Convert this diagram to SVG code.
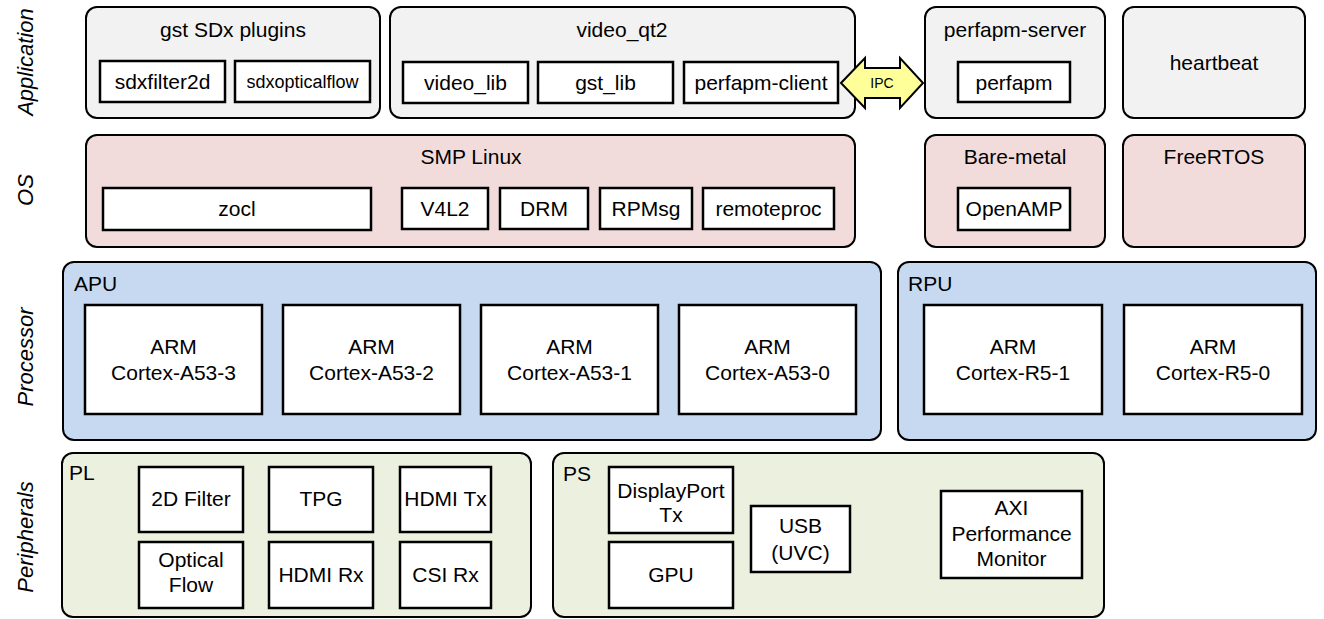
<svg xmlns="http://www.w3.org/2000/svg" width="1324" height="619" viewBox="0 0 1324 619">
<style>
text{font-family:"Liberation Sans",Arial,sans-serif;font-size:21px;fill:#000}
.c{text-anchor:middle}
.sm{font-size:18px}
.lbl{font-style:italic;text-anchor:middle;dominant-baseline:central;font-size:22px}
.grp{stroke:#000;stroke-width:2}
.app{fill:#f2f2f2}
.os{fill:#f2dcdb}
.proc{fill:#c6d9f1}
.per{fill:#ebf1de}
.box{fill:#fff;stroke:#000;stroke-width:2.5}
</style>
<g id="layer-labels">
<text class="lbl" transform="translate(25,62) rotate(-90)">Application</text>
<text class="lbl" transform="translate(25,190) rotate(-90)">OS</text>
<text class="lbl" transform="translate(25,357) rotate(-90)">Processor</text>
<text class="lbl" transform="translate(25,537) rotate(-90)">Peripherals</text>
</g>
<g id="gst-sdx-plugins">
<rect class="grp app" x="86" y="7" width="294" height="111" rx="11"/>
<text class="c" x="233" y="37">gst SDx plugins</text>
<g id="sdxfilter2d"><rect class="box" x="100" y="61" width="125" height="41"/><text class="c" x="162.5" y="89">sdxfilter2d</text></g>
<g id="sdxopticalflow"><rect class="box" x="235" y="61" width="135" height="41"/><text class="c sm" x="302.5" y="88">sdxopticalflow</text></g>
</g>
<g id="video_qt2">
<rect class="grp app" x="390" y="7" width="465" height="111" rx="11"/>
<text class="c" x="622" y="37">video_qt2</text>
<g id="video_lib"><rect class="box" x="403" y="62" width="125" height="41"/><text class="c" x="465.5" y="90">video_lib</text></g>
<g id="gst_lib"><rect class="box" x="538" y="62" width="135" height="41"/><text class="c" x="605.5" y="90">gst_lib</text></g>
<g id="perfapm-client"><rect class="box" x="684" y="62" width="154" height="41"/><text class="c" x="761" y="90">perfapm-client</text></g>
</g>
<g id="perfapm-server">
<rect class="grp app" x="925" y="7" width="180" height="111" rx="11"/>
<text class="c" x="1015" y="37">perfapm-server</text>
<g id="perfapm"><rect class="box" x="958" y="62" width="112" height="40"/><text class="c" x="1014" y="90">perfapm</text></g>
</g>
<g id="heartbeat">
<rect class="grp app" x="1123" y="7" width="182" height="111" rx="11"/>
<text class="c" x="1214" y="70">heartbeat</text>
</g>
<g id="smp-linux">
<rect class="grp os" x="86" y="135" width="769" height="112" rx="11"/>
<text class="c" x="471" y="164">SMP Linux</text>
<g id="zocl"><rect class="box" x="103" y="188" width="268" height="42"/><text class="c" x="237" y="216">zocl</text></g>
<g id="v4l2"><rect class="box" x="402" y="188" width="86" height="41"/><text class="c" x="445" y="216">V4L2</text></g>
<g id="drm"><rect class="box" x="500" y="188" width="88" height="41"/><text class="c" x="544" y="216">DRM</text></g>
<g id="rpmsg"><rect class="box" x="600" y="188" width="92" height="41"/><text class="c" x="646" y="216">RPMsg</text></g>
<g id="remoteproc"><rect class="box" x="703" y="188" width="131" height="41"/><text class="c" x="768.5" y="216">remoteproc</text></g>
</g>
<g id="bare-metal">
<rect class="grp os" x="925" y="135" width="180" height="112" rx="11"/>
<text class="c" x="1015" y="164">Bare-metal</text>
<g id="openamp"><rect class="box" x="958" y="188" width="112" height="42"/><text class="c" x="1014" y="216">OpenAMP</text></g>
</g>
<g id="freertos">
<rect class="grp os" x="1123" y="135" width="182" height="112" rx="11"/>
<text class="c" x="1214" y="164">FreeRTOS</text>
</g>
<g id="apu">
<rect class="grp proc" x="63" y="262" width="818" height="178" rx="11"/>
<text x="74" y="291">APU</text>
<g id="a53-3"><rect class="box" x="85" y="305" width="177" height="109"/><text class="c" x="173.5" y="354">ARM</text><text class="c" x="173.5" y="380">Cortex-A53-3</text></g>
<g id="a53-2"><rect class="box" x="283" y="305" width="177" height="109"/><text class="c" x="371.5" y="354">ARM</text><text class="c" x="371.5" y="380">Cortex-A53-2</text></g>
<g id="a53-1"><rect class="box" x="481" y="305" width="177" height="109"/><text class="c" x="569.5" y="354">ARM</text><text class="c" x="569.5" y="380">Cortex-A53-1</text></g>
<g id="a53-0"><rect class="box" x="679" y="305" width="177" height="109"/><text class="c" x="767.5" y="354">ARM</text><text class="c" x="767.5" y="380">Cortex-A53-0</text></g>
</g>
<g id="rpu">
<rect class="grp proc" x="898" y="262" width="418" height="178" rx="11"/>
<text x="908" y="291">RPU</text>
<g id="r5-1"><rect class="box" x="924" y="305" width="178" height="109"/><text class="c" x="1013" y="354">ARM</text><text class="c" x="1013" y="380">Cortex-R5-1</text></g>
<g id="r5-0"><rect class="box" x="1124" y="305" width="178" height="109"/><text class="c" x="1213" y="354">ARM</text><text class="c" x="1213" y="380">Cortex-R5-0</text></g>
</g>
<g id="pl">
<rect class="grp per" x="62" y="453" width="469" height="164" rx="11"/>
<text x="69" y="480">PL</text>
<g id="filter2d"><rect class="box" x="139" y="467" width="104" height="65"/><text class="c" x="191" y="506">2D Filter</text></g>
<g id="tpg"><rect class="box" x="269" y="467" width="104" height="65"/><text class="c" x="321" y="506">TPG</text></g>
<g id="hdmi-tx"><rect class="box" x="400" y="467" width="91" height="65"/><text class="c" x="445.5" y="506">HDMI Tx</text></g>
<g id="optical-flow"><rect class="box" x="139" y="542" width="104" height="66"/><text class="c" x="191" y="567">Optical</text><text class="c" x="191" y="592">Flow</text></g>
<g id="hdmi-rx"><rect class="box" x="269" y="542" width="104" height="66"/><text class="c" x="321" y="582">HDMI Rx</text></g>
<g id="csi-rx"><rect class="box" x="400" y="542" width="91" height="66"/><text class="c" x="445.5" y="582">CSI Rx</text></g>
</g>
<g id="ps">
<rect class="grp per" x="553" y="453" width="551" height="164" rx="11"/>
<text x="563" y="481">PS</text>
<g id="displayport"><rect class="box" x="609" y="467" width="124" height="66"/><text class="c" x="671" y="498">DisplayPort</text><text class="c" x="671" y="522">Tx</text></g>
<g id="gpu"><rect class="box" x="609" y="542" width="124" height="66"/><text class="c" x="671" y="582">GPU</text></g>
<g id="usb"><rect class="box" x="751" y="506" width="99" height="66"/><text class="c" x="800.5" y="533">USB</text><text class="c" x="800.5" y="560">(UVC)</text></g>
<g id="axi"><rect class="box" x="941" y="491" width="141" height="87"/><text class="c" x="1011.5" y="515">AXI</text><text class="c" x="1011.5" y="541">Performance</text><text class="c" x="1011.5" y="566">Monitor</text></g>
</g>
<g id="connectors">
<g id="ipc">
<polygon points="841,83 865,58 865,68 900,68 900,58 923,83 900,108 900,98 865,98 865,108" fill="#ffff99" stroke="#000" stroke-width="2"/>
<text class="c" x="882" y="88" style="font-size:14px">IPC</text>
</g>
</g>
</svg>
